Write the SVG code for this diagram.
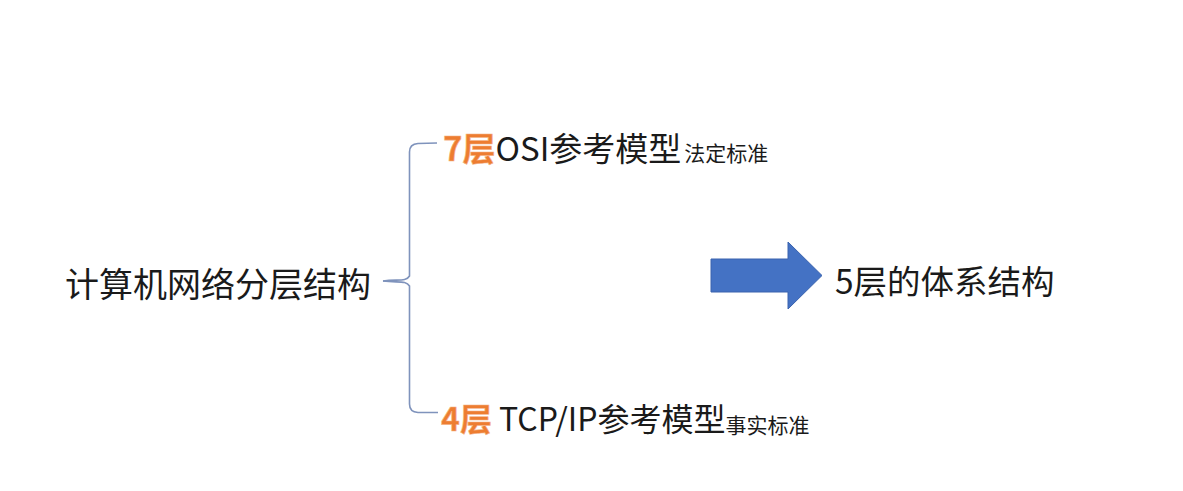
<svg xmlns="http://www.w3.org/2000/svg" width="1183" height="491" viewBox="0 0 1183 491">
<style>
text{font-family:"Noto Sans CJK SC","Noto Sans",sans-serif;fill:#1a1a1a}
.big{font-size:33px}
.big2{font-size:32px}
.main{font-size:34px}
.res{font-size:33.5px}
.num{fill:#ED7D31;font-weight:bold;stroke:#F4B183;stroke-width:0.6}
.small{font-size:21px}
.brace{fill:none;stroke:#7F93BC;stroke-width:1.6}
</style>
<rect width="1183" height="491" fill="#ffffff"/>
<g id="root"><text class="main" x="65" y="297">计算机网络分层结构</text></g>
<g id="connectors">
<path class="brace" d="M383,281 C398,279 406,282 409.5,276 L409.5,152 Q409.5,144 418,143.5 L437,143"/>
<path class="brace" d="M383,281 C398,283 406,280 409.5,286 L409.5,404 Q409.5,412 418,412.5 L438,412.5"/>
</g>
<g id="osi"><text class="big" x="443" y="161"><tspan class="num">7层</tspan><tspan>OSI参考模型</tspan><tspan class="small" dx="3">法定标准</tspan></text></g>
<g id="tcpip"><text class="big2" x="441" y="431"><tspan class="num">4层</tspan><tspan> TCP/IP参考模型</tspan><tspan class="small" dy="2">事实标准</tspan></text></g>
<g id="arrow"><path d="M711,259 L788,259 L788,242 L822,275.5 L788,309 L788,292 L711,292 Z" fill="#4472C4" stroke="#3A63AE" stroke-width="1"/></g>
<g id="result"><text class="res" x="835" y="294">5层的体系结构</text></g>
</svg>
